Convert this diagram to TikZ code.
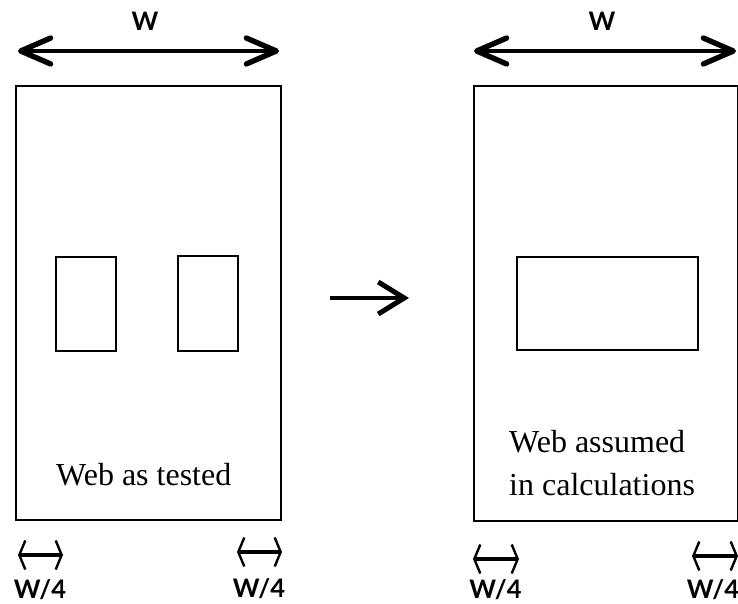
\documentclass[tikz,border=0pt]{standalone}
\usepackage{fontspec}
\setmainfont{Liberation Serif}
\newfontfamily\labelfont{Lato}
\usetikzlibrary{arrows.meta}
\tikzset{
  web/.style={draw=black,line width=2pt,fill=white,inner sep=0pt},
  bigdim/.style={line width=4.8pt,{Straight Barb[length=30pt,width=26pt,line width=5.4pt,round]}-{Straight Barb[length=30pt,width=26pt,line width=5.4pt,round]}},
  smalldim/.style={line width=4.2pt,{Straight Barb[length=6pt,width=29pt,line width=2.4pt]}-{Straight Barb[length=6pt,width=29pt,line width=2.4pt]}},
  flow/.style={line width=4.8pt,-{Straight Barb[length=26pt,width=32pt,line width=5pt]}},
  wlabel/.style={font=\labelfont\bfseries\fontsize{25.5}{25.5}\selectfont,inner sep=0pt,anchor=base},
  caption/.style={font=\fontsize{32}{43}\selectfont,inner sep=0pt,align=left,anchor=base west}
}
\begin{document}
\begin{tikzpicture}[x=1pt,y=-1pt]
\useasboundingbox (0,0) rectangle (738,604);
\node[web,minimum width=265pt,minimum height=434pt] (L) at (148.5,303) {};
\node[web,minimum width=60pt,minimum height=94pt] (La) at (86,304) {};
\node[web,minimum width=60pt,minimum height=95pt] (Lb) at (207.5,303.5) {};
\node[web,minimum width=264pt,minimum height=435pt] (R) at (605.5,303.5) {};
\node[web,minimum width=181pt,minimum height=93pt] (Ra) at (607,303.5) {};
\node[caption] (c1) at (56,485) {Web as tested};
\node[caption] (c2) at (509,495) {Web assumed\\in calculations};
\node[wlabel] (w1) at (145,31) {W};
\node[wlabel] (w2) at (602,31) {W};
\node[wlabel] (q1) at (40,598) {W/4};
\node[wlabel] (q2) at (259,597) {W/4};
\node[wlabel] (q3) at (495.5,598.5) {W/4};
\node[wlabel] (q4) at (713,598.5) {W/4};
\coordinate (a1) at (18,51); \coordinate (a2) at (279,51);
\coordinate (b1) at (474,51); \coordinate (b2) at (736,51);
\coordinate (s1) at (18,555); \coordinate (s2) at (63,555);
\coordinate (s3) at (237,552); \coordinate (s4) at (282,552);
\coordinate (s5) at (473,559); \coordinate (s6) at (519,559);
\coordinate (s7) at (692,556); \coordinate (s8) at (738,556);
\coordinate (f1) at (330,298); \coordinate (f2) at (409,298);
\draw[bigdim] (a1) -- (a2);
\draw[bigdim] (b1) -- (b2);
\draw[smalldim] (s1) -- (s2);
\draw[smalldim] (s3) -- (s4);
\draw[smalldim] (s5) -- (s6);
\draw[smalldim] (s7) -- (s8);
\draw[flow] (f1) -- (f2);
\end{tikzpicture}
\end{document}
